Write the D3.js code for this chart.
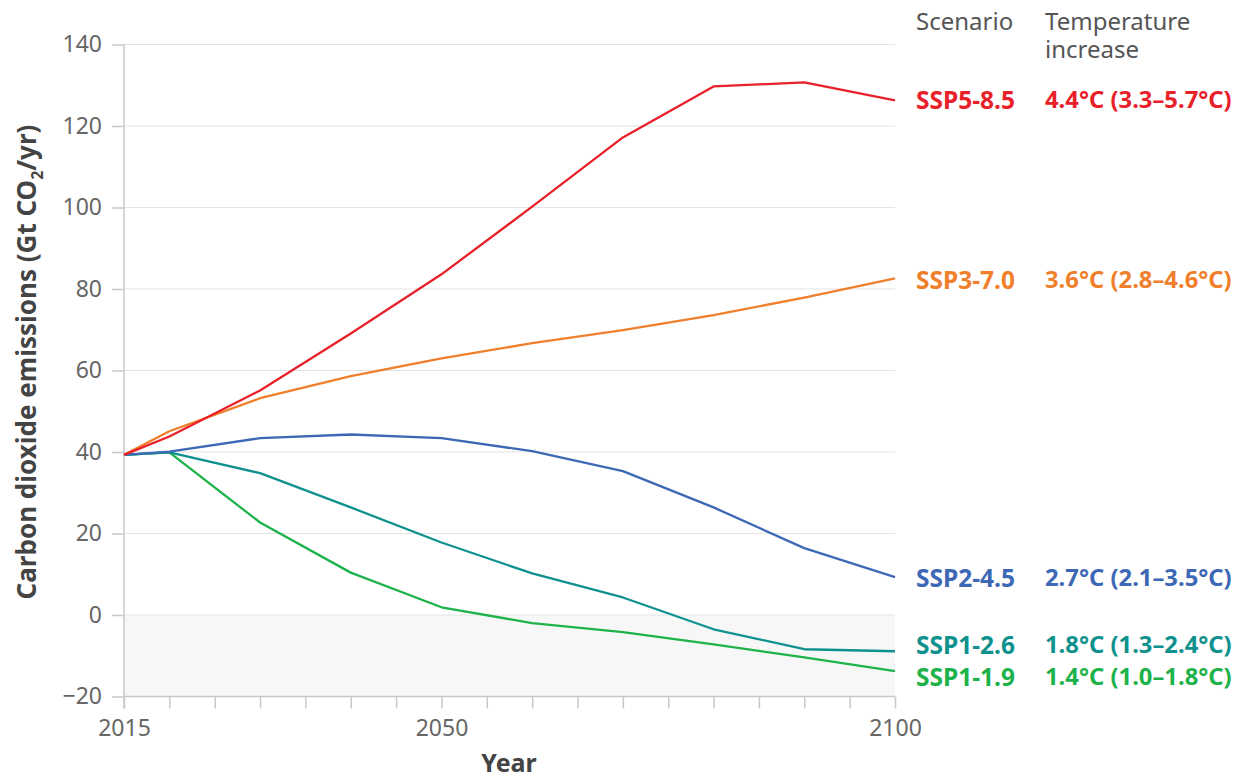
<!DOCTYPE html>
<html><head><meta charset="utf-8">
<script src="https://cdn.jsdelivr.net/npm/d3@7"></script>
<style>body{margin:0;background:#fff;}svg{display:block;font-family:"Noto Sans",sans-serif;} svg text{font-family:"Noto Sans",sans-serif;}</style>
</head><body><svg id="c" width="1241" height="779"></svg>
<script>
const years = [2015, 2020, 2030, 2040, 2050, 2060, 2070, 2080, 2090, 2100];
const ssp585 = [39.3, 43.8, 55.1, 69.1, 83.6, 100.2, 117.2, 129.7, 130.7, 126.3];
const ssp370 = [39.3, 45.1, 53.2, 58.6, 63.0, 66.7, 69.9, 73.6, 77.9, 82.6];
const ssp245 = [39.3, 40.1, 43.4, 44.3, 43.4, 40.2, 35.3, 26.4, 16.4, 9.3];
const ssp126 = [39.3, 39.9, 34.8, 26.4, 17.8, 10.2, 4.3, -3.5, -8.4, -8.9];
const ssp119 = [39.3, 39.9, 22.7, 10.4, 1.9, -2.0, -4.2, -7.2, -10.4, -13.8];
const scenarioNames = ["SSP5-8.5", "SSP3-7.0", "SSP2-4.5", "SSP1-2.6", "SSP1-1.9"];
const tempLabels = ["4.4°C (3.3–5.7°C)", "3.6°C (2.8–4.6°C)", "2.7°C (2.1–3.5°C)", "1.8°C (1.3–2.4°C)", "1.4°C (1.0–1.8°C)"];
const yTicks = [-20, 0, 20, 40, 60, 80, 100, 120, 140];
const xTickLabels = [2015, 2050, 2100];

const seriesData = [ssp585, ssp370, ssp245, ssp126, ssp119];
const colors = ["#e8202a", "#f07f2b", "#3d68b5", "#0f918d", "#1eb24b"];
const labelY = [100, 280, 578, 645, 677];

const svg = d3.select("#c");
const x = d3.scaleLinear().domain([2015, 2100]).range([124, 895]);
const y = d3.scaleLinear().domain([-20, 140]).range([696.5, 44.5]);

// negative shading
svg.append("rect").attr("x", x(2015)).attr("y", y(0)).attr("width", x(2100) - x(2015)).attr("height", y(-20) - y(0)).attr("fill", "#f7f7f7");

// y grid + ticks
const yAxis = svg.append("g").attr("transform", `translate(${x(2015)},0)`)
  .call(d3.axisLeft(y).tickValues(yTicks).tickSize(12).tickPadding(10).tickFormat(d => d < 0 ? "−" + Math.abs(d) : d));
yAxis.attr("font-family", null).attr("font-size", null);
yAxis.select(".domain").remove();
yAxis.selectAll("line").attr("stroke", "#c8c8c8").attr("stroke-width", 1.5);
yAxis.selectAll("text").attr("fill", "#666").style("font-size", "23px");
svg.append("g").selectAll("line").data(yTicks).join("line")
  .attr("x1", x(2015)).attr("x2", x(2100)).attr("y1", d => y(d)).attr("y2", d => y(d))
  .attr("stroke", d => d === -20 ? "#c8c8c8" : "#e3e3e3").attr("stroke-width", d => d === -20 ? 1.5 : 1.2);
// y axis line
svg.append("line").attr("x1", x(2015)).attr("x2", x(2015)).attr("y1", y(140)).attr("y2", y(-20) + 12)
  .attr("stroke", "#c8c8c8").attr("stroke-width", 1.5);

// x axis
const xAxis = svg.append("g").attr("transform", `translate(0,${y(-20)})`)
  .call(d3.axisBottom(x).tickValues(d3.range(2015, 2101, 5)).tickSize(12).tickPadding(11)
    .tickFormat(d => xTickLabels.includes(d) ? d : ""));
xAxis.attr("font-family", null).attr("font-size", null);
xAxis.select(".domain").remove();
xAxis.selectAll("line").attr("stroke", "#c8c8c8").attr("stroke-width", 1.5);
xAxis.selectAll("text").attr("fill", "#666").style("font-size", "23px");

// lines
const line = d3.line().x((d, i) => x(years[i])).y(d => y(d));
[...seriesData].reverse().forEach((s, k) => {
  const i = seriesData.length - 1 - k;
  svg.append("path").datum(s).attr("d", line).attr("fill", "none")
    .attr("stroke", colors[i]).attr("stroke-width", 2.3).attr("stroke-linejoin", "round");
});

// labels
scenarioNames.forEach((n, i) => {
  svg.append("text").attr("x", 916).attr("y", labelY[i]).attr("dy", "0.35em")
    .attr("fill", colors[i]).style("font-size", "24.5px").attr("font-weight", "bold").text(n);
  svg.append("text").attr("x", 1045).attr("y", labelY[i]).attr("dy", "0.35em")
    .attr("fill", colors[i]).style("font-size", "23.8px").attr("font-weight", "bold").text(tempLabels[i]);
});
svg.append("text").attr("x", 916).attr("y", 30).attr("fill", "#555").style("font-size", "24px").text("Scenario");
const hd = svg.append("text").attr("x", 1045).attr("y", 30).attr("fill", "#555").style("font-size", "24px");
hd.append("tspan").attr("x", 1045).text("Temperature");
hd.append("tspan").attr("x", 1045).attr("dy", 28).text("increase");

// axis titles
svg.append("text").attr("x", 509).attr("y", 772).attr("text-anchor", "middle").attr("fill", "#444")
  .style("font-size", "25px").attr("font-weight", "bold").text("Year");
const yt = svg.append("text").attr("transform", "translate(36,362) rotate(-90)").attr("text-anchor", "middle")
  .attr("fill", "#444").style("font-size", "26px").attr("font-weight", "bold");
yt.append("tspan").text("Carbon dioxide emissions (Gt CO");
yt.append("tspan").style("font-size", "16px").attr("dy", 7).text("2");
yt.append("tspan").attr("dy", -7).text("/yr)");
</script></body></html>
